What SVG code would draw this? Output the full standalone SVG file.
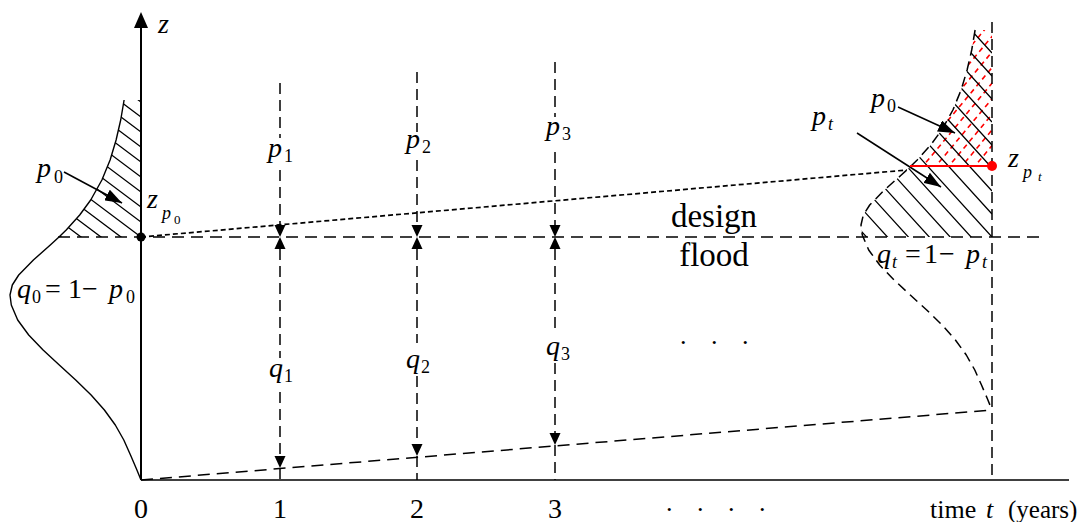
<svg xmlns="http://www.w3.org/2000/svg" width="1091" height="522" viewBox="0 0 1091 522">
<style>
 .axis{stroke:#000;fill:none}
 .vdash{stroke:#000;stroke-width:1.5;stroke-dasharray:11 6;fill:none}
 .flood{stroke:#000;stroke-width:1.5;stroke-dasharray:12 7;fill:none}
 .dotted{stroke:#000;stroke-width:1.7;stroke-dasharray:5 3;fill:none}
 .solidcurve{stroke:#000;stroke-width:1.4;fill:none;stroke-linejoin:round}
 .dashcurve{stroke:#000;stroke-width:1.5;fill:none;stroke-dasharray:10 6;stroke-linejoin:round}
 .hatch{stroke:#000;stroke-width:1.3;fill:none}
 .rhatch{stroke:#ff0000;stroke-width:1.6;stroke-dasharray:5 4;fill:none}
 .ptr{stroke:#000;stroke-width:1.5;fill:none;marker-end:url(#arr)}
 text{font-family:"Liberation Serif","Times New Roman",serif;fill:#000}
 .it{font-style:italic}
 .m{font-size:28px}
 .s{font-size:18px}
 .ss{font-size:13px}
</style>
<defs>
 <path id="bell" d="M124.1,100 L120.7,120 L116.1,140 L110.1,160 L101.9,180 L90.7,200 L79.7,215 L66.2,230 L59,237 L50.3,245 L33.4,260 L18.7,275 L12.3,285 L10,295 L11.3,305 L17.7,320 L28.7,335 L43.1,350 L59.3,365 L75.7,380 L91.1,395 L104.4,410 L115.3,425 L123.8,440 L130.5,455 L136.5,469 L141,480"/>
 <path id="ah" d="M0,0 L-5.5,-12 L5.5,-12 Z" fill="#000"/>
 <marker id="arr" markerWidth="17" markerHeight="12" refX="17" refY="6" orient="auto" markerUnits="userSpaceOnUse">
  <path d="M0,0 L17,6 L0,12 Z" fill="#000"/>
 </marker>
 <clipPath id="clipL"><polygon points="124.1,100 120.7,120 116.1,140 110.1,160 101.9,180 90.7,200 79.7,215 66.2,230 59,237 141,237 141,100"/></clipPath>
 <clipPath id="clipR"><polygon points="975.1,30 971.7,50 967.1,70 961.1,90 952.9,110 941.7,130 930.7,145 917.2,160 910,167 901.3,175 884.4,190 869.7,205 863.3,215 861,225 862.3,235 863,237 992,237 992,30"/></clipPath>
 <clipPath id="clipRed"><polygon points="975.1,30 971.7,50 967.1,70 961.1,90 952.9,110 941.7,130 930.7,145 917.2,160 910,166 992,166 992,30"/></clipPath>
</defs>
<rect width="1091" height="522" fill="#fff"/>

<g id="hatching">
 <path class="hatch" clip-path="url(#clipL)" d="M41,222 L141,297 M41,207 L141,282 M41,192 L141,267 M41,177 L141,252 M41,162 L141,237 M41,147 L141,222 M41,132 L141,207 M41,117 L141,192 M41,102 L141,177 M41,87 L141,162 M41,72 L141,147 M41,57 L141,132 M41,42 L141,117 M41,27 L141,102"/>
 <path class="rhatch" clip-path="url(#clipRed)" d="M838,190 L978,22 M851,190 L991,22 M864,190 L1004,22 M877,190 L1017,22 M890,190 L1030,22 M903,190 L1043,22 M916,190 L1056,22 M929,190 L1069,22 M942,190 L1082,22 M955,190 L1095,22 M968,190 L1108,22 M981,190 L1121,22"/>
 <path class="hatch" clip-path="url(#clipR)" d="M852,221 L992,375 M852,198 L992,352 M852,175 L992,329 M852,152 L992,306 M852,129 L992,283 M852,106 L992,260 M852,83 L992,237 M852,60 L992,214 M852,37 L992,191 M852,14 L992,168 M852,-9 L992,145 M852,-32 L992,122 M852,-55 L992,99 M852,-78 L992,76 M852,-101 L992,53 M852,-124 L992,30"/>
</g>

<g id="distributions">
 <use href="#bell" class="solidcurve"/>
 <use href="#bell" class="dashcurve" transform="translate(851,-70)"/>
</g>

<g id="axes">
 <line class="axis" x1="141" y1="26" x2="141" y2="480" stroke-width="2"/>
 <polygon points="141,12 134,28 148,28" fill="#000"/>
 <line class="axis" x1="141" y1="480" x2="1069" y2="480" stroke-width="1.5"/>
</g>

<g id="connectors">
 <line class="flood" x1="58" y1="237" x2="1045" y2="237"/>
 <line class="dotted" x1="141" y1="237" x2="907" y2="170"/>
 <line class="flood" x1="141" y1="480" x2="992" y2="410"/>
 <line class="vdash" x1="992" y1="22" x2="992" y2="480"/>
 <path class="vdash" d="M280,83 V138 M280,170 V226 M280,249 V358 M280,392 V456 M280,468 V480"/>
 <path class="vdash" d="M417,72 V132 M417,160 V226 M417,249 V343 M417,376 V444 M417,456 V480"/>
 <path class="vdash" d="M555,62 V117 M555,152 V226 M555,249 V333 M555,363 V433 M555,445 V480"/>
 <use href="#ah" x="280" y="237"/>
 <use href="#ah" transform="translate(280,237) rotate(180)"/>
 <use href="#ah" x="280" y="468"/>
 <use href="#ah" x="417" y="237"/>
 <use href="#ah" transform="translate(417,237) rotate(180)"/>
 <use href="#ah" x="417" y="456"/>
 <use href="#ah" x="555" y="237"/>
 <use href="#ah" transform="translate(555,237) rotate(180)"/>
 <use href="#ah" x="555" y="445"/>
 <line class="ptr" x1="64" y1="172" x2="122" y2="203"/>
 <line class="ptr" x1="898" y1="107" x2="955" y2="133"/>
 <line class="ptr" x1="857" y1="133" x2="941" y2="187"/>
 <line x1="910" y1="166" x2="992" y2="166" stroke="#ff0000" stroke-width="2"/>
 <circle cx="141" cy="237" r="4.5" fill="#000"/>
 <circle cx="992" cy="166" r="5" fill="#ff0000"/>
</g>

<g id="labels">
 <text class="it" x="158" y="33" font-size="28">z</text>
 <text x="37" y="177"><tspan class="it m">p</tspan><tspan class="s" x="54" y="183">0</tspan></text>
 <text x="147" y="208"><tspan class="it" font-size="28">z</tspan><tspan class="it s" x="162" y="219">p</tspan><tspan class="ss" x="174" y="224">0</tspan></text>
 <text x="17" y="298"><tspan class="it m">q</tspan><tspan class="s" x="32" y="303">0</tspan><tspan class="m" x="45" y="298">=</tspan><tspan class="m" x="68" y="298">1</tspan><tspan class="m" x="82" y="298">−</tspan><tspan class="it m" x="109" y="298">p</tspan><tspan class="s" x="126" y="303">0</tspan></text>
 <text x="268" y="157"><tspan class="it m">p</tspan><tspan class="s" x="284" y="162">1</tspan></text>
 <text x="406" y="148"><tspan class="it m">p</tspan><tspan class="s" x="422" y="153">2</tspan></text>
 <text x="546" y="135"><tspan class="it m">p</tspan><tspan class="s" x="562" y="140">3</tspan></text>
 <text x="269" y="377"><tspan class="it m">q</tspan><tspan class="s" x="284" y="382">1</tspan></text>
 <text x="406" y="368"><tspan class="it m">q</tspan><tspan class="s" x="421" y="373">2</tspan></text>
 <text x="546" y="355"><tspan class="it m">q</tspan><tspan class="s" x="561" y="360">3</tspan></text>
 <text x="714" y="227" font-size="33" text-anchor="middle">design</text>
 <text x="714" y="266" font-size="33" text-anchor="middle">flood</text>
 <text x="680 711 742" y="344" font-size="26">...</text>
 <text x="666 697 728 759" y="511" font-size="26">....</text>
 <text x="141" y="518" font-size="28" text-anchor="middle">0</text>
 <text x="280" y="518" font-size="28" text-anchor="middle">1</text>
 <text x="417" y="518" font-size="28" text-anchor="middle">2</text>
 <text x="555" y="518" font-size="28" text-anchor="middle">3</text>
 <text x="930" y="518" font-size="26">time<tspan class="it" x="986">t</tspan><tspan x="1008" font-size="25">(years)</tspan></text>
 <text x="871" y="107"><tspan class="it m">p</tspan><tspan class="s" x="887" y="112">0</tspan></text>
 <text x="812" y="125"><tspan class="it m">p</tspan><tspan class="it s" x="828" y="130">t</tspan></text>
 <text x="1008" y="167"><tspan class="it" font-size="28">z</tspan><tspan class="it s" x="1023" y="178">p</tspan><tspan class="it ss" x="1038" y="181">t</tspan></text>
 <text x="877" y="263"><tspan class="it m">q</tspan><tspan class="it s" x="892" y="268">t</tspan><tspan class="m" x="905" y="263">=</tspan><tspan class="m" x="924" y="263">1</tspan><tspan class="m" x="939" y="263">−</tspan><tspan class="it m" x="966" y="263">p</tspan><tspan class="it s" x="982" y="268">t</tspan></text>
</g>
</svg>
